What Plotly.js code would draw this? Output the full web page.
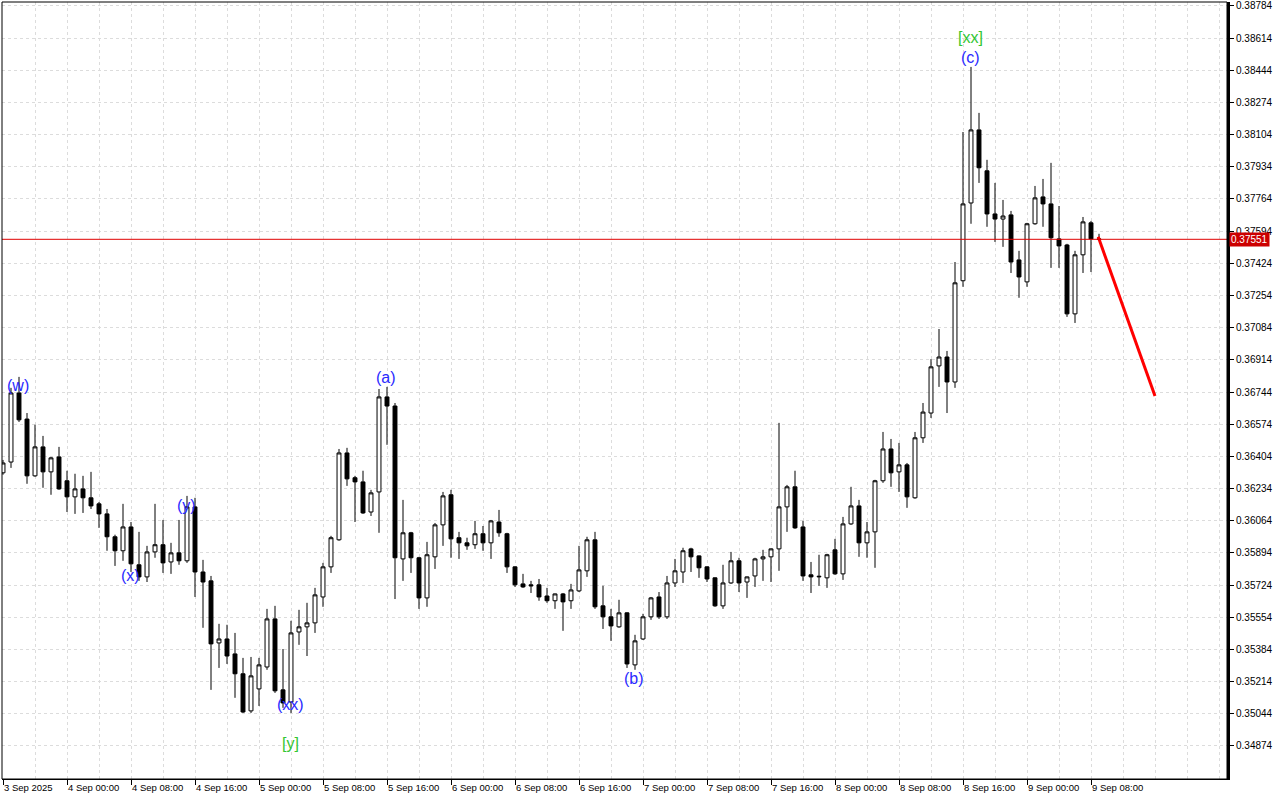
<!DOCTYPE html>
<html>
<head>
<meta charset="utf-8">
<script src="https://cdn.plot.ly/plotly-3.0.1.min.js"></script>
<style>html,body{margin:0;padding:0;background:#fff;}#chart{width:1280px;height:800px;}</style>
</head>
<body>
<div id="chart"></div>
<script>
// H1 candles, 3 Sep 2025 16:00 -> 9 Sep 2025 09:00
const openP = [0.36317,0.36374,0.36739,0.36601,0.36301,0.36454,0.36322,0.36401,0.36275,0.36190,
0.36232,0.36185,0.36153,0.36100,0.35979,0.35905,0.36031,0.35831,0.35767,0.35899,
0.35937,0.35846,0.35894,0.35852,0.36137,0.35793,0.35746,0.35418,0.35439,0.35360,
0.35255,0.35059,0.35175,0.35291,0.35545,0.35170,0.35106,0.35476,0.35503,0.35524,
0.35661,0.35820,0.35963,0.36422,0.36291,0.36269,0.36110,0.36216,0.36718,0.36670,
0.35862,0.36000,0.35868,0.35656,0.35873,0.36042,0.36201,0.35974,0.35947,0.35937,
0.35995,0.35947,0.36057,0.35995,0.35820,0.35730,0.35725,0.35725,0.35666,0.35641,
0.35677,0.35641,0.35693,0.35799,0.35963,0.35614,0.35556,0.35503,0.35577,0.35302,
0.35439,0.35556,0.35661,0.35556,0.35735,0.35793,0.35915,0.35878,0.35820,0.35762,
0.35614,0.35735,0.35852,0.35740,0.35772,0.35862,0.35873,0.35915,0.36137,0.36243,
0.36031,0.35778,0.35767,0.35762,0.35910,0.35783,0.36047,0.36142,0.35947,0.36005,
0.36275,0.36443,0.36322,0.36359,0.36185,0.36502,0.36633,0.36882,0.36929,0.36797,
0.37332,0.37743,0.38129,0.37913,0.37685,0.37658,0.37680,0.37442,0.37326,0.37633,
0.37775,0.37738,0.37553,0.37521,0.37157,0.37469,0.37638,0.37553];
const highP = [0.36385,0.36766,0.36824,0.36633,0.36571,0.36512,0.36401,0.36454,0.36328,0.36312,
0.36301,0.36322,0.36163,0.36126,0.35990,0.36153,0.36057,0.36005,0.35931,0.36153,
0.36068,0.35947,0.36068,0.36195,0.36185,0.35857,0.35772,0.35519,0.35514,0.35471,
0.35339,0.35344,0.35339,0.35598,0.35614,0.35386,0.35535,0.35593,0.35630,0.35709,
0.35841,0.35984,0.36443,0.36449,0.36301,0.36328,0.36227,0.36760,0.36771,0.36686,
0.36174,0.36005,0.35873,0.35952,0.36052,0.36216,0.36227,0.36005,0.35974,0.36063,
0.36036,0.36068,0.36121,0.36000,0.35822,0.35783,0.35746,0.35756,0.35709,0.35679,
0.35682,0.35730,0.35931,0.35979,0.36005,0.35720,0.35598,0.35646,0.35580,0.35461,
0.35572,0.35661,0.35687,0.35772,0.35862,0.35921,0.35921,0.35880,0.35822,0.35764,
0.35831,0.35899,0.35868,0.35769,0.35868,0.35910,0.35917,0.36581,0.36253,0.36328,
0.36063,0.35846,0.35884,0.35889,0.35968,0.36084,0.36243,0.36174,0.36057,0.36280,
0.36533,0.36496,0.36475,0.36369,0.36533,0.36686,0.36918,0.37077,0.36961,0.37431,
0.38118,0.38462,0.38219,0.37971,0.37849,0.37759,0.37701,0.37490,0.37638,0.37833,
0.37870,0.37955,0.37727,0.37527,0.37490,0.37669,0.37648,0.37580];
const lowP = [0.36307,0.36343,0.36586,0.36259,0.36296,0.36238,0.36201,0.36227,0.36110,0.36100,
0.36105,0.36126,0.36026,0.35905,0.35825,0.35852,0.35793,0.35746,0.35740,0.35868,
0.35788,0.35783,0.35831,0.35841,0.35661,0.35498,0.35170,0.35286,0.35307,0.35128,
0.35048,0.35048,0.35085,0.35276,0.35154,0.35075,0.35048,0.35408,0.35349,0.35471,
0.35609,0.35788,0.35958,0.36248,0.36057,0.36100,0.36089,0.36000,0.36465,0.35650,
0.35746,0.35788,0.35598,0.35609,0.35809,0.35931,0.35868,0.35862,0.35910,0.35915,
0.35905,0.35862,0.35979,0.35788,0.35714,0.35709,0.35682,0.35641,0.35630,0.35598,
0.35482,0.35598,0.35687,0.35767,0.35598,0.35492,0.35429,0.35498,0.35286,0.35276,
0.35434,0.35540,0.35545,0.35545,0.35714,0.35735,0.35793,0.35762,0.35740,0.35609,
0.35598,0.35730,0.35687,0.35656,0.35714,0.35746,0.35740,0.35799,0.36005,0.36021,
0.35746,0.35682,0.35720,0.35709,0.35778,0.35751,0.36042,0.35873,0.35868,0.35815,
0.36264,0.36243,0.36216,0.36132,0.36180,0.36475,0.36607,0.36771,0.36633,0.36766,
0.37300,0.37633,0.37849,0.37617,0.37537,0.37511,0.37373,0.37242,0.37300,0.37628,
0.37617,0.37400,0.37400,0.37141,0.37109,0.37373,0.37378,0.37545];
const closeP = [0.36369,0.36739,0.36597,0.36301,0.36454,0.36322,0.36396,0.36232,0.36190,0.36232,
0.36185,0.36142,0.36100,0.35979,0.35905,0.36031,0.35836,0.35767,0.35899,0.35937,
0.35841,0.35894,0.35852,0.36137,0.35793,0.35740,0.35413,0.35439,0.35349,0.35255,
0.35053,0.35244,0.35302,0.35545,0.35165,0.35101,0.35471,0.35503,0.35524,0.35672,
0.35820,0.35974,0.36422,0.36285,0.36269,0.36105,0.36211,0.36718,0.36670,0.35868,
0.36000,0.35868,0.35656,0.35884,0.36042,0.36195,0.35968,0.35947,0.35931,0.35995,
0.35947,0.36063,0.36000,0.35820,0.35725,0.35714,0.35720,0.35661,0.35641,0.35677,
0.35635,0.35698,0.35804,0.35963,0.35609,0.35556,0.35508,0.35577,0.35307,0.35429,
0.35556,0.35656,0.35556,0.35735,0.35799,0.35905,0.35873,0.35815,0.35756,0.35614,
0.35735,0.35852,0.35735,0.35767,0.35862,0.35873,0.35915,0.36137,0.36243,0.36026,
0.35772,0.35767,0.35770,0.35884,0.35783,0.36047,0.36142,0.35947,0.36005,0.36275,
0.36443,0.36317,0.36359,0.36190,0.36502,0.36638,0.36877,0.36929,0.36797,0.37321,
0.37738,0.38129,0.37929,0.37685,0.37658,0.37674,0.37431,0.37352,0.37633,0.37770,
0.37738,0.37559,0.37516,0.37157,0.37469,0.37643,0.37553,0.37551];

const lastPrice = 0.37551;
const lastPriceText = '0.37551';

// forecast arrow (bar index, price)
const forecastX = [136.9, 144.0];
const forecastY = [0.37564, 0.36723];

// wave labels
const waveText  = ['(w)','(x)','(y)','(xx)','[y]','(a)','(b)','(c)','[xx]'];
const waveBar   = [1.9, 15.9, 22.9, 35.9, 35.9, 47.9, 78.9, 120.9, 120.9];
const wavePrice = [0.36776,0.35772,0.36142,0.35091,0.34884,0.36819,0.35228,0.38510,0.38615];
const waveColor = ['#2a2aff','#2a2aff','#2a2aff','#2a2aff','#33c633','#2a2aff','#2a2aff','#2a2aff','#33c633'];

// axis ticks
const xTickBars = [0,8,16,24,32,40,48,56,64,72,80,88,96,104,112,120,128,136];
const xTickText = ['3 Sep 2025','4 Sep 00:00','4 Sep 08:00','4 Sep 16:00','5 Sep 00:00','5 Sep 08:00',
'5 Sep 16:00','6 Sep 00:00','6 Sep 08:00','6 Sep 16:00','7 Sep 00:00','7 Sep 08:00','7 Sep 16:00',
'8 Sep 00:00','8 Sep 08:00','8 Sep 16:00','9 Sep 00:00','9 Sep 08:00'];
const yTickVals = [0.38784,0.38614,0.38444,0.38274,0.38104,0.37934,0.37764,0.37594,0.37424,0.37254,
0.37084,0.36914,0.36744,0.36574,0.36404,0.36234,0.36064,0.35894,0.35724,0.35554,0.35384,0.35214,0.35044,0.34874];

const barIdx = openP.map((_, i) => i);
const gridCol = '#dcdcdc';

const traces = [
  {
    type: 'candlestick', x: barIdx, open: openP, high: highP, low: lowP, close: closeP,
    increasing: {line: {color: '#000000', width: 1}, fillcolor: '#ffffff'},
    decreasing: {line: {color: '#000000', width: 1}, fillcolor: '#000000'},
    whiskerwidth: 0, hoverinfo: 'skip', showlegend: false
  },
  {
    type: 'scatter', mode: 'lines', x: forecastX, y: forecastY,
    line: {color: '#ff0000', width: 3}, hoverinfo: 'skip', showlegend: false
  }
];

const annotations = waveText.map((t, i) => ({
  x: waveBar[i], y: wavePrice[i], xref: 'x', yref: 'y', text: t, showarrow: false,
  xanchor: 'center', yanchor: 'middle',
  font: {family: 'Liberation Sans, Arial, sans-serif', size: 16, color: waveColor[i]}
}));
annotations.push({
  x: 1, xref: 'paper', y: lastPrice, yref: 'y', text: lastPriceText, showarrow: false,
  xanchor: 'left', yanchor: 'middle', xshift: 2, bgcolor: '#cc0000', borderpad: 1,
  font: {family: 'Liberation Sans, Arial, sans-serif', size: 10, color: '#ffffff'}
});

const layout = {
  width: 1280, height: 800,
  margin: {l: 2, r: 53, t: 2, b: 21, pad: 0},
  paper_bgcolor: '#ffffff', plot_bgcolor: '#ffffff',
  showlegend: false, boxgap: 0.3,
  xaxis: {
    type: 'linear', range: [-0.125, 153], rangeslider: {visible: false},
    tickmode: 'array', tickvals: xTickBars, ticktext: xTickText,
    ticklabelposition: 'outside right',
    ticks: 'outside', ticklen: 5, tickcolor: '#000000', tickwidth: 1,
    showgrid: true, gridcolor: gridCol, griddash: '3px,3px', gridwidth: 1,
    minor: {tickmode: 'linear', tick0: 0, dtick: 4, showgrid: true, gridcolor: gridCol, griddash: '3px,3px', ticks: ''},
    showline: true, linecolor: '#000000', linewidth: 1,
    zeroline: false, automargin: false, fixedrange: true,
    tickfont: {family: 'Liberation Sans, Arial, sans-serif', size: 9.5, color: '#000000'}
  },
  yaxis: {
    side: 'right', range: [0.34699, 0.38805],
    tickmode: 'array', tickvals: yTickVals, ticktext: yTickVals.map(v => v.toFixed(5)),
    ticks: 'outside', ticklen: 4, tickcolor: '#000000',
    showgrid: true, gridcolor: gridCol, griddash: '3px,3px', gridwidth: 1,
    showline: true, linecolor: '#000000', linewidth: 3,
    zeroline: false, automargin: false, fixedrange: true,
    tickfont: {family: 'Liberation Sans, Arial, sans-serif', size: 10, color: '#000000'}
  },
  shapes: [
    {type: 'line', xref: 'paper', x0: 0, x1: 1, yref: 'y', y0: lastPrice, y1: lastPrice,
     line: {color: '#e00000', width: 1}, layer: 'above'},
    {type: 'rect', xref: 'paper', yref: 'paper', x0: 0, x1: 1, y0: 0, y1: 1,
     line: {color: '#000000', width: 1}, fillcolor: 'rgba(0,0,0,0)'}
  ],
  annotations: annotations
};

Plotly.newPlot('chart', traces, layout, {staticPlot: true, displayModeBar: false});
</script>
</body>
</html>
